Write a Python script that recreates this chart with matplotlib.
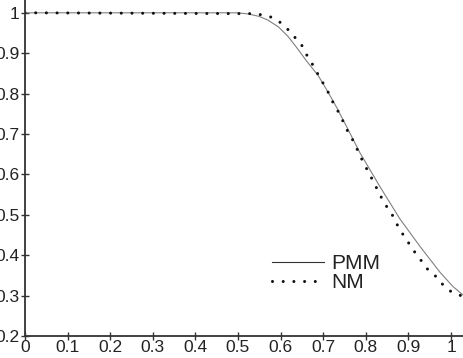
import matplotlib
matplotlib.use("Agg")
import matplotlib.pyplot as plt
from matplotlib import font_manager

# ---- data ----
pmm_x = [0.0, 0.50, 0.525, 0.55, 0.57, 0.595, 0.617, 0.637, 0.66, 0.688, 0.709,
         0.732, 0.756, 0.786, 0.833, 0.880, 0.927, 0.974, 1.005, 1.03]
pmm_y = [1.0, 1.0, 0.997, 0.991, 0.982, 0.965, 0.942, 0.915, 0.882, 0.845, 0.808,
         0.765, 0.716, 0.654, 0.570, 0.490, 0.422, 0.358, 0.322, 0.30]

nm_x = [0.0, 0.50, 0.527, 0.55, 0.576, 0.597, 0.616, 0.632, 0.649, 0.660, 0.674,
        0.686, 0.698, 0.710, 0.721, 0.733, 0.745, 0.756, 0.768, 0.778, 0.789,
        0.801, 0.813, 0.824, 0.836, 0.848, 0.862, 0.874, 0.888, 0.902, 0.916,
        0.932, 0.946, 0.965, 0.981, 1.000, 1.023]
nm_y = [1.0, 0.998, 0.998, 0.996, 0.990, 0.978, 0.960, 0.941, 0.921, 0.898, 0.874,
        0.851, 0.829, 0.807, 0.782, 0.760, 0.735, 0.710, 0.688, 0.666, 0.641,
        0.616, 0.592, 0.569, 0.544, 0.522, 0.500, 0.475, 0.450, 0.428, 0.406,
        0.384, 0.364, 0.347, 0.327, 0.310, 0.300]

x_ticks = [0, 0.1, 0.2, 0.3, 0.4, 0.5, 0.6, 0.7, 0.8, 0.9, 1.0]
x_tick_labels = ["0", "0.1", "0.2", "0.3", "0.4", "0.5", "0.6", "0.7", "0.8", "0.9", "1"]
y_ticks = [0.2, 0.3, 0.4, 0.5, 0.6, 0.7, 0.8, 0.9, 1.0]
y_tick_labels = ["0.2", "0.3", "0.4", "0.5", "0.6", "0.7", "0.8", "0.9", "1"]
series_labels = ["PMM", "NM"]

# ---- fonts ----
avail = {f.name for f in font_manager.fontManager.ttflist}
tick_font = "Liberation Sans Narrow" if "Liberation Sans Narrow" in avail else "Liberation Sans"
text_font = "Liberation Sans"

W, H = 463, 358
fig = plt.figure(figsize=(W / 100, H / 100), dpi=100)
left_px, bottom_px = 25, 336
ax = fig.add_axes([left_px / W, (H - bottom_px) / H, (W - left_px) / W, bottom_px / H])

ax.plot(pmm_x, pmm_y, color="#808080", lw=0.8, label=series_labels[0])
ax.plot(nm_x, nm_y, color="#111111", lw=2.2, linestyle=(0, (0.001, 3.5)),
        dash_capstyle="round", label=series_labels[1])

ax.set_xlim(0, (W - left_px) / 426.0)
ax.set_ylim(0.2, 0.2 + bottom_px / 404.0)

for s in ["top", "right"]:
    ax.spines[s].set_visible(False)
for s in ["left", "bottom"]:
    ax.spines[s].set_color("#333333")
    ax.spines[s].set_linewidth(1.3)

ax.set_xticks(x_ticks)
ax.set_xticklabels(x_tick_labels, fontfamily=tick_font, fontsize=12.5, color="#222222")
ax.set_yticks(y_ticks)
ax.set_yticklabels(y_tick_labels, fontfamily=tick_font, fontsize=12.5, color="#222222")
ax.tick_params(axis="both", direction="inout", length=6, width=1.0, color="#333333")
ax.tick_params(axis="x", pad=0)
ax.tick_params(axis="y", pad=1)

leg = ax.legend(loc="center left", bbox_to_anchor=(272 / W, 1 - 273 / H),
                bbox_transform=fig.transFigure, frameon=False,
                prop={"family": text_font, "size": 15},
                handlelength=2.5, handletextpad=0.35, labelspacing=0.0,
                borderpad=0, borderaxespad=0)
for t in leg.get_texts():
    t.set_color("#222222")
leg.get_lines()[0].set_color("#333333")

fig.savefig("out.png", dpi=100)
